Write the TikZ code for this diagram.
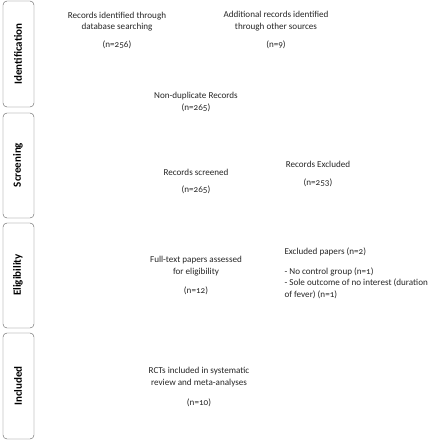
\documentclass[tikz,border=0pt]{standalone}
\usepackage{fontspec}
\setmainfont[Numbers=OldStyle]{Carlito}
\usepackage{tikz}
\usetikzlibrary{positioning}

\begin{document}
\begin{tikzpicture}[x=1pt, y=-1pt, font=\fontsize{9.1pt}{11.5pt}\selectfont, text=black!85]
		\useasboundingbox (0, 0) rectangle (428, 440);
		\path [draw, rounded corners=4pt, gray!70!black, thin] (3, 1) rectangle (34, 107);
		\path [draw, rounded corners=4pt, gray!70!black, thin] (3, 113) rectangle (34, 218);
		\path [draw, rounded corners=4pt, gray!70!black, thin] (3, 223) rectangle (34, 328);
		\path [draw, rounded corners=4pt, gray!70!black, thin] (3, 333) rectangle (34, 439);
		\node [rotate=90, text=black, font=\fontsize{11pt}{12pt}\selectfont\bfseries] (identlabel) at (18, 54) {Identification};
		\node [rotate=90, text=black, font=\fontsize{11pt}{12pt}\selectfont\bfseries] (screenlabel) at (18, 165) {Screening};
		\node [rotate=90, text=black, font=\fontsize{11pt}{12pt}\selectfont\bfseries] (eliglabel) at (18, 275) {Eligibility};
		\node [rotate=90, text=black, font=\fontsize{11pt}{12pt}\selectfont\bfseries] (inclabel) at (18, 386) {Included};
		\node [align=center] (dbrecords) at (117, 21.5) {Records identified through\\database searching};
		\node (dbn) at (117, 45) {(n=256)};
		\node [align=center] (otherrecords) at (276, 21) {Additional records identified\\through other sources};
		\node (othern) at (276, 45) {(n=9)};
		\node [align=center] (nondup) at (196, 102) {Non-duplicate Records\\(n=265)};
		\node (screened) at (196, 172) {Records screened};
		\node (screenedn) at (196, 190) {(n=265)};
		\node (excluded) at (318, 164) {Records Excluded};
		\node (excludedn) at (318, 183) {(n=253)};
		\node [align=center] (fulltext) at (196, 266) {Full-text papers assessed\\for eligibility};
		\node (fulltextn) at (196, 291) {(n=12)};
		\node [anchor=west] (exclpapers) at (281, 252) {Excluded papers (n=2)};
		\node [anchor=west, align=left] (exclreasons) at (281, 283) {- No control group (n=1)\\- Sole outcome of no interest (duration\\of fever) (n=1)};
		\node [align=center] (included) at (199, 377) {RCTs included in systematic\\review and meta-analyses};
		\node (includedn) at (199, 403) {(n=10)};
	\end{tikzpicture}
\end{document}
